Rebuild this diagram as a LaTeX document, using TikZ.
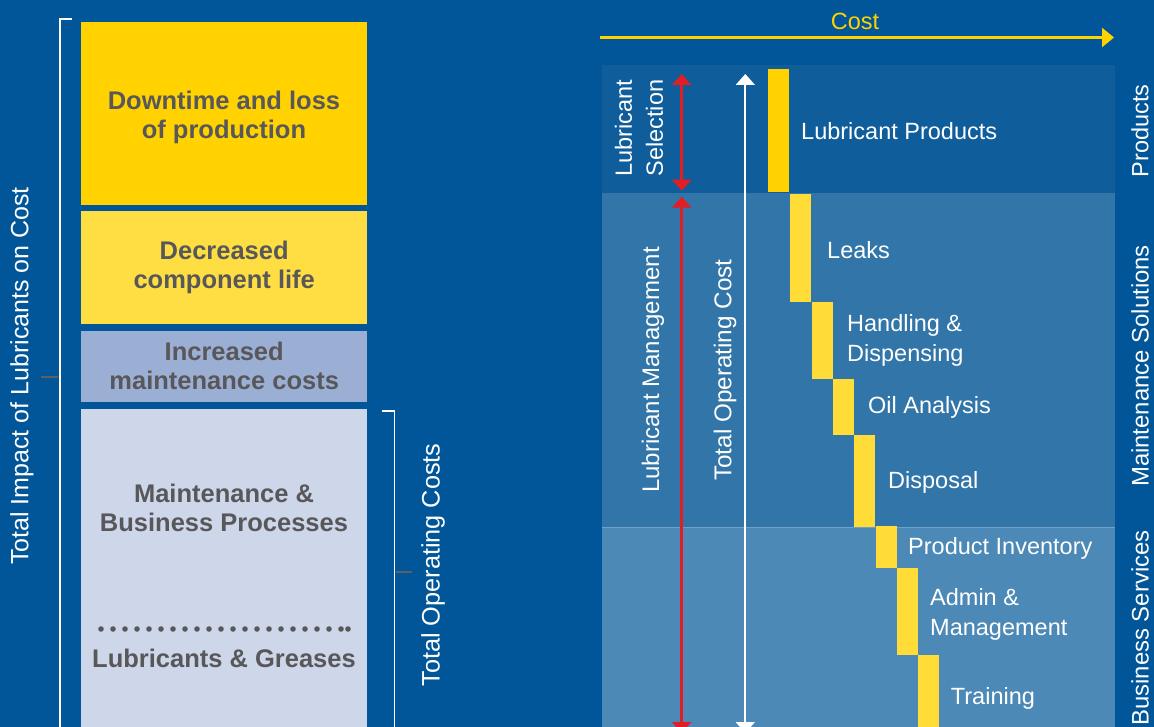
\documentclass[tikz,border=0pt]{standalone}
\usepackage{fontspec}
\setmainfont{Liberation Sans}
\usetikzlibrary{arrows.meta}
\definecolor{bgblue}{RGB}{0,86,152}
\definecolor{pband}{RGB}{16,93,156}
\definecolor{mband}{RGB}{50,117,168}
\definecolor{sband}{RGB}{76,137,182}
\definecolor{bandline}{RGB}{110,160,200}
\definecolor{boxA}{RGB}{255,210,0}
\definecolor{boxB}{RGB}{255,222,68}
\definecolor{boxC}{RGB}{155,175,212}
\definecolor{boxD}{RGB}{206,214,234}
\definecolor{graytxt}{RGB}{88,88,90}
\definecolor{tickgray}{RGB}{95,95,95}
\definecolor{redarr}{RGB}{224,30,36}
\definecolor{barA}{RGB}{255,210,0}
\definecolor{barB}{RGB}{255,220,55}
\tikzset{
  costbox/.style={draw=none, anchor=north west, inner sep=0pt, align=center, text=graytxt,
    font=\fontsize{25.5}{29}\selectfont\bfseries},
  boldlbl/.style={inner sep=0pt, align=center, text=graytxt, font=\fontsize{25.5}{29}\selectfont\bfseries},
  band/.style={draw=none, anchor=north west, inner sep=0pt},
  ybar/.style={draw=none, anchor=north west, inner sep=0pt, minimum width=21pt},
  wlbl/.style={inner sep=0pt, anchor=west, yshift=-2pt, text=white, align=left, font=\fontsize{23.5}{29.5}\selectfont},
  vlbl/.style={inner sep=0pt, rotate=90, text=white, align=center, font=\fontsize{24}{31}\selectfont},
  brk/.style={white, line width=1.5pt},
  gtick/.style={draw=tickgray, line width=2pt},
  redarrow/.style={redarr, line width=2.5pt, {Triangle[length=11pt,width=19pt]}-{Triangle[length=11pt,width=19pt]}},
  whitearrow/.style={white, line width=2pt, {Triangle[length=11pt,width=19pt]}-{Triangle[length=11pt,width=19pt]}},
}
\begin{document}
\begin{tikzpicture}[x=1pt,y=-1pt]
\useasboundingbox (0,0) rectangle (1154,727);
\fill[bgblue] (0,0) rectangle (1154,727);

% ---------- left: cost boxes ----------
\node[costbox, fill=boxA, minimum width=286pt, minimum height=182.7pt] (b1) at (81,22) {};
\node[boldlbl] (b1t) at (224,117) {Downtime and loss\\of production};
\node[costbox, fill=boxB, minimum width=286pt, minimum height=112.7pt] (b2) at (81,211) {Decreased\\component life};
\node[costbox, fill=boxC, minimum width=286pt, minimum height=70.3pt] (b3) at (81,331) {Increased\\maintenance costs};
\node[costbox, fill=boxD, minimum width=286pt, minimum height=330pt] (b4) at (81,409) {};
\node[boldlbl] (b4a) at (224,508) {Maintenance \&\\Business Processes};
\node[boldlbl] (b4b) at (224,658) {Lubricants \& Greases};
\foreach \i in {0,...,20} \fill[graytxt] (101+12*\i,629) circle (2.8pt);
\fill[graytxt] (348,629) circle (2.8pt);

% left bracket
\coordinate (lb1) at (72,19);
\coordinate (lb2) at (60,19);
\coordinate (lb3) at (60,740);
\draw[brk] (lb1) -- (lb2) -- (lb3);
\coordinate (lt1) at (41,377);
\coordinate (lt2) at (58,377);
\draw[gtick] (lt1) -- (lt2);
\node[vlbl, font=\fontsize{25}{30}\selectfont] (ltxt) at (22,376) {Total Impact of Lubricants on Cost};

% right bracket of boxes
\coordinate (rb1) at (382,411);
\coordinate (rb2) at (394.5,411);
\coordinate (rb3) at (394.5,740);
\draw[brk] (rb1) -- (rb2) -- (rb3);
\coordinate (rt1) at (396,572);
\coordinate (rt2) at (412,572);
\draw[gtick] (rt1) -- (rt2);
\node[vlbl, font=\fontsize{25.3}{30}\selectfont] (rtxt) at (433,565) {Total Operating Costs};

% ---------- right panel ----------
\coordinate (ca) at (600,37.5);
\coordinate (cb) at (1114,37.5);
\draw[barA, line width=2.5pt, -{Triangle[length=12pt,width=19pt]}] (ca) -- (cb);
\node[inner sep=0pt, text=barA, font=\fontsize{23.5}{28}\selectfont] (cost) at (855,21) {Cost};

\node[band, fill=pband, minimum width=513pt, minimum height=128pt] (pb) at (602,65) {};
\node[band, fill=mband, minimum width=513pt, minimum height=334pt] (mb) at (602,193) {};
\node[band, fill=sband, minimum width=513pt, minimum height=210pt] (sb) at (602,527) {};
\draw[bandline, line width=0.8pt] (mb.south west) -- (mb.south east);

% staircase bars
\node[ybar, fill=barA, minimum height=122.7pt] (y1) at (768,69) {};
\node[ybar, fill=barB, minimum height=107.7pt] (y2) at (790,194) {};
\node[ybar, fill=barB, minimum height=76.7pt] (y3) at (811.5,302.3) {};
\node[ybar, fill=barB, minimum height=56pt] (y4) at (832.5,379) {};
\node[ybar, fill=barB, minimum height=91.7pt] (y5) at (854,435) {};
\node[ybar, fill=barB, minimum height=41.7pt] (y6) at (876,526) {};
\node[ybar, fill=barB, minimum height=87.3pt] (y7) at (896.5,567.7) {};
\node[ybar, fill=barB, minimum height=80pt] (y8) at (918,655) {};

% bar labels
\node[wlbl] (l1) at (801,129) {Lubricant Products};
\node[wlbl] (l2) at (827,248) {Leaks};
\node[wlbl] (l3) at (847,338.5) {Handling \&\\Dispensing};
\node[wlbl] (l4) at (868,405) {Oil Analysis};
\node[wlbl] (l5) at (888,480) {Disposal};
\node[wlbl] (l6) at (908,546.7) {Product Inventory};
\node[wlbl] (l7) at (930,612.5) {Admin \&\\Management};
\node[wlbl] (l8) at (950.7,696.7) {Training};

% arrows
\coordinate (ra1) at (681.7,74);
\coordinate (ra2) at (681.7,190.7);
\draw[redarrow] (ra1) -- (ra2);
\coordinate (ra3) at (681.7,196.7);
\coordinate (ra4) at (681.7,733);
\draw[redarrow] (ra3) -- (ra4);
\coordinate (wa1) at (745.3,74);
\coordinate (wa2) at (745.3,733);
\draw[whitearrow] (wa1) -- (wa2);

% vertical labels in panel
\node[vlbl, font=\fontsize{23.5}{31}\selectfont] (sel) at (639,128) {Lubricant\\Selection};
\node[vlbl] (mgmt) at (653,370) {Lubricant Management};
\node[vlbl, font=\fontsize{24.3}{30}\selectfont] (toc) at (725,370) {Total Operating Cost};

% side labels
\node[vlbl, font=\fontsize{23.5}{30}\selectfont] (sp) at (1140,131) {Products};
\node[vlbl, font=\fontsize{23.9}{30}\selectfont] (sm) at (1140,366) {Maintenance Solutions};
\node[vlbl, font=\fontsize{23.9}{30}\selectfont] (ss) at (1140,628) {Business Services};
\end{tikzpicture}
\end{document}
